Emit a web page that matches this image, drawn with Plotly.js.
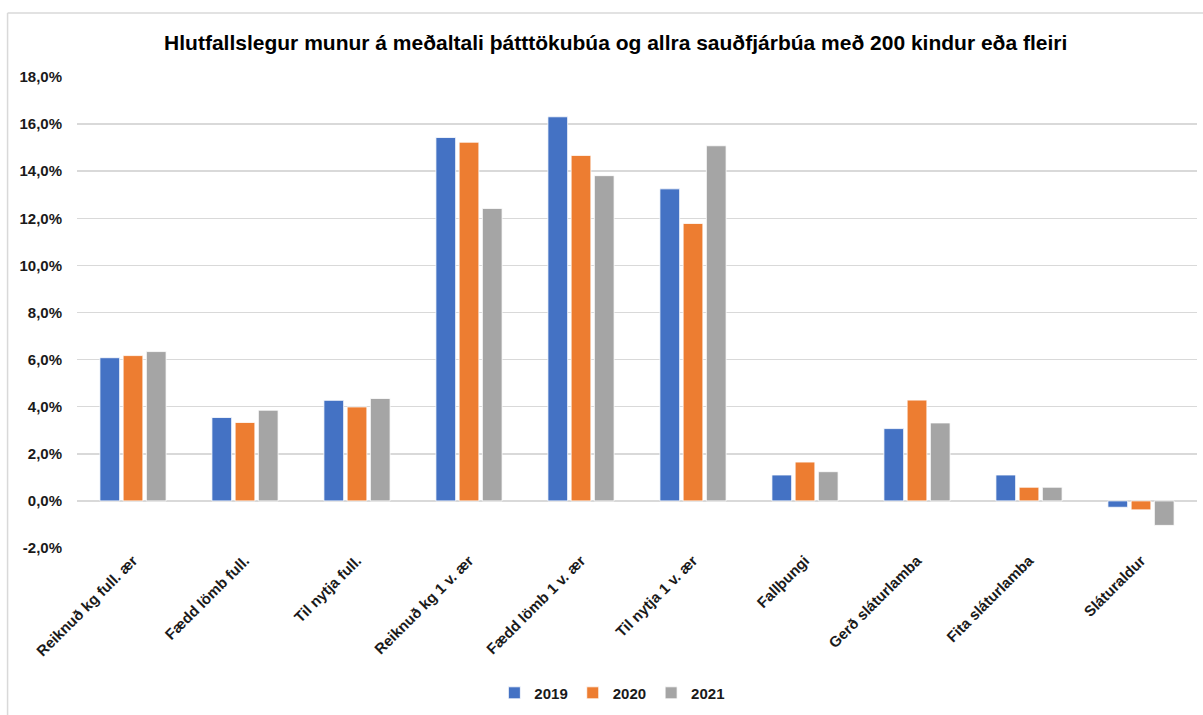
<!DOCTYPE html>
<html>
<head>
<meta charset="utf-8">
<script src="https://cdn.plot.ly/plotly-3.0.1.min.js"></script>
<style>html,body{margin:0;padding:0;background:#fff;} #chart{width:1203px;height:715px;}</style>
</head>
<body>
<div id="chart"></div>
<script>
const categories = ["Reiknuð kg full. ær", "Fædd lömb full.", "Til nytja full.", "Reiknuð kg 1 v. ær", "Fædd lömb 1 v. ær", "Til nytja 1 v. ær", "Fallþungi", "Gerð sláturlamba", "Fita sláturlamba", "Sláturaldur"];
const series2019 = [6.08, 3.54, 4.27, 15.43, 16.31, 13.25, 1.10, 3.07, 1.10, -0.27];
const series2020 = [6.17, 3.33, 3.99, 15.23, 14.67, 11.78, 1.65, 4.28, 0.58, -0.38];
const series2021 = [6.34, 3.85, 4.35, 12.42, 13.81, 15.08, 1.24, 3.31, 0.58, -1.04];
const seriesNames = ["2019", "2020", "2021"];
const colors = ["#4472C4", "#ED7D31", "#A5A5A5"];
const yTicks = [-2, 0, 2, 4, 6, 8, 10, 12, 14, 16, 18];
const yTickText = yTicks.map(v => v.toFixed(1).replace(".", ",") + "%");

const FONT = "Liberation Sans, Arial, sans-serif";
const allSeries = [series2019, series2020, series2021];
const traces = allSeries.map((vals, i) => ({
  type: "bar",
  name: seriesNames[i],
  x: categories,
  y: vals,
  marker: {color: colors[i], line: {color: "rgba(255,255,255,0.8)", width: 1}},
  hoverinfo: "x+y+name"
}));

const layout = {
  width: 1203,
  height: 715,
  paper_bgcolor: "#ffffff",
  plot_bgcolor: "#ffffff",
  separators: ",.",
  margin: {l: 77, r: 6, t: 77, b: 164, pad: 0},
  title: {
    text: "Hlutfallslegur munur á meðaltali þátttökubúa og allra sauðfjárbúa með 200 kindur eða fleiri",
    font: {family: FONT, size: 21, color: "#000000", weight: "bold"},
    x: 0.481, xanchor: "center", xref: "paper",
    y: 0.94, yanchor: "middle", yref: "container"
  },
  barmode: "group",
  bargap: 0.378,
  bargroupgap: 0.15,
  showlegend: true,
  legend: {
    orientation: "h",
    x: 0.478, xanchor: "center",
    y: -0.308, yanchor: "middle",
    font: {family: FONT, size: 15, color: "#1a1a1a", weight: "bold"},
    itemwidth: 30,
    traceorder: "normal"
  },
  xaxis: {
    type: "category",
    tickangle: -45,
    tickfont: {family: FONT, size: 15, color: "#1a1a1a", weight: "bold"},
    showgrid: false,
    showline: false,
    zeroline: false,
    ticks: "",
    automargin: false
  },
  yaxis: {
    range: [-2, 18],
    tickmode: "array",
    tickvals: yTicks,
    ticktext: yTickText,
    tickfont: {family: FONT, size: 15, color: "#1a1a1a", weight: "bold"},
    showgrid: true,
    gridcolor: "#D9D9D9",
    gridwidth: 1.5,
    zeroline: true,
    zerolinecolor: "#D9D9D9",
    zerolinewidth: 1.5,
    showline: false,
    ticks: "",
    ticklabelstandoff: 14,
    automargin: false,
    fixedrange: true
  },
  shapes: [
    {type: "line", xref: "paper", yref: "paper", x0: -0.062, x1: -0.062, y0: -0.4, y1: 1.136, line: {color: "#D9D9D9", width: 1.5}},
    {type: "line", xref: "paper", yref: "paper", x0: -0.062, x1: 1.01, y0: 1.136, y1: 1.136, line: {color: "#D9D9D9", width: 1.5}}
  ]
};

Plotly.newPlot("chart", traces, layout, {displayModeBar: false, staticPlot: true});
</script>
</body>
</html>
